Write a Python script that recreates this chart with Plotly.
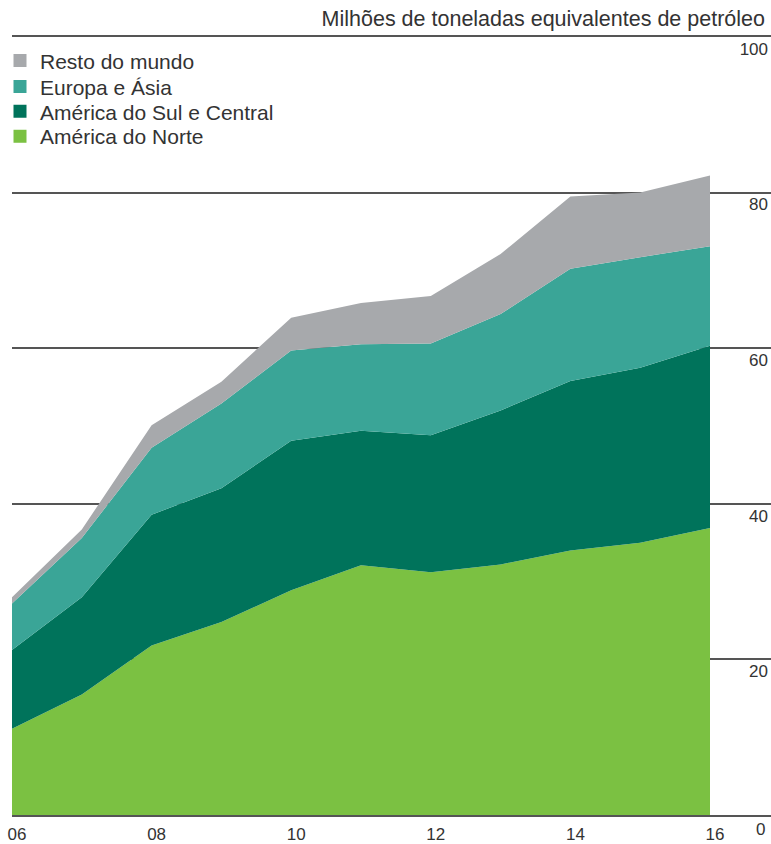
import plotly.graph_objects as go

# Annual consumption by region, million tonnes oil equivalent
years = [2006, 2007, 2008, 2009, 2010, 2011, 2012, 2013, 2014, 2015, 2016]
america_norte = [11.1, 15.5, 21.8, 24.8, 28.9, 32.1, 31.2, 32.2, 34.0, 35.0, 36.9]
america_sul_central = [10.1, 12.5, 16.8, 17.2, 19.2, 17.3, 17.6, 19.8, 21.8, 22.5, 23.4]
europa_asia = [6.0, 7.6, 8.6, 10.9, 11.6, 11.1, 11.8, 12.4, 14.4, 14.2, 12.8]
resto_mundo = [0.8, 1.1, 2.9, 2.8, 4.2, 5.3, 6.1, 7.7, 9.3, 8.3, 9.1]

series_names = ["América do Norte", "América do Sul e Central", "Europa e Ásia", "Resto do mundo"]
series_values = [america_norte, america_sul_central, europa_asia, resto_mundo]
series_colors = ["#7bc142", "#00735b", "#3aa597", "#a7a9ac"]

x_tick_vals = [2006, 2008, 2010, 2012, 2014, 2016]
x_tick_text = ["06", "08", "10", "12", "14", "16"]
y_tick_vals = [0, 20, 40, 60, 80, 100]
y_tick_text = ["0", "20", "40", "60", "80", "100"]

FONT = "Liberation Sans, Arial, sans-serif"
TEXT = "#333333"
AXIS = "#555555"

W, H = 771, 844
M_L, M_R, M_T, M_B = 12, 0, 37, 26
PLOT_W = W - M_L - M_R
PLOT_H = H - M_T - M_B

fig = go.Figure()

# stacked areas
for name, vals, col in zip(series_names, series_values, series_colors):
    fig.add_trace(go.Scatter(
        x=years, y=vals, name=name, stackgroup="one", mode="lines",
        line=dict(width=0, color=col), fillcolor=col, showlegend=False,
        hoverinfo="x+y+name",
    ))

# one single-entry legend per region, stacked top to bottom (last series first)
legend_ids = ["legend4", "legend3", "legend2", "legend"]
legend_rows_px = [137, 112, 87, 61]
for name, col, lid in zip(series_names, series_colors, legend_ids):
    fig.add_trace(go.Scatter(
        x=[None], y=[None], name=name, mode="markers",
        marker=dict(symbol="square", size=13, color=col),
        showlegend=True, legend=lid,
    ))

legend_layout = {}
for lid, row in zip(legend_ids, legend_rows_px):
    legend_layout[lid] = dict(
        x=-M_L / PLOT_W, y=1 - (row - M_T) / PLOT_H,
        xref="paper", yref="paper", xanchor="left", yanchor="middle",
        itemwidth=30, bgcolor="rgba(0,0,0,0)", itemclick=False,
        font=dict(family=FONT, size=21, color=TEXT),
    )

fig.update_layout(
    width=W, height=H,
    margin=dict(l=M_L, r=M_R, t=M_T, b=M_B),
    paper_bgcolor="white", plot_bgcolor="white",
    font=dict(family=FONT, color=TEXT, size=16),
    title=dict(
        text="Milhões de toneladas equivalentes de petróleo",
        x=765 / W, xref="container", xanchor="right",
        y=1 - 18 / H, yref="container", yanchor="middle",
        font=dict(family=FONT, size=21.5, color=TEXT),
    ),
    xaxis=dict(
        range=[2006, 2006 + PLOT_W / 69.8],
        tickvals=x_tick_vals, ticktext=x_tick_text,
        showgrid=False, zeroline=False,
        showline=True, mirror=True, linecolor=AXIS, linewidth=2,
        ticks="", tickfont=dict(size=17, color=TEXT),
        ticklabelstandoff=3, ticklabelshift=5,
    ),
    yaxis=dict(
        range=[0, 100], side="right",
        tickvals=y_tick_vals, ticktext=y_tick_text,
        showgrid=True, gridcolor=AXIS, gridwidth=1.5,
        zeroline=False, showline=False, ticks="",
        ticklabelposition="inside bottom",
        tickfont=dict(size=17, color=TEXT),
    ),
    hovermode="x unified",
    **legend_layout,
)

# bottom value of the right-hand scale, below the baseline
fig.add_annotation(
    x=1, xref="paper", y=0, yref="y", text=y_tick_text[0],
    xanchor="right", yanchor="top", showarrow=False, yshift=-3, xshift=-4,
    font=dict(family=FONT, size=17, color=TEXT),
)

fig.write_html("out.html")
